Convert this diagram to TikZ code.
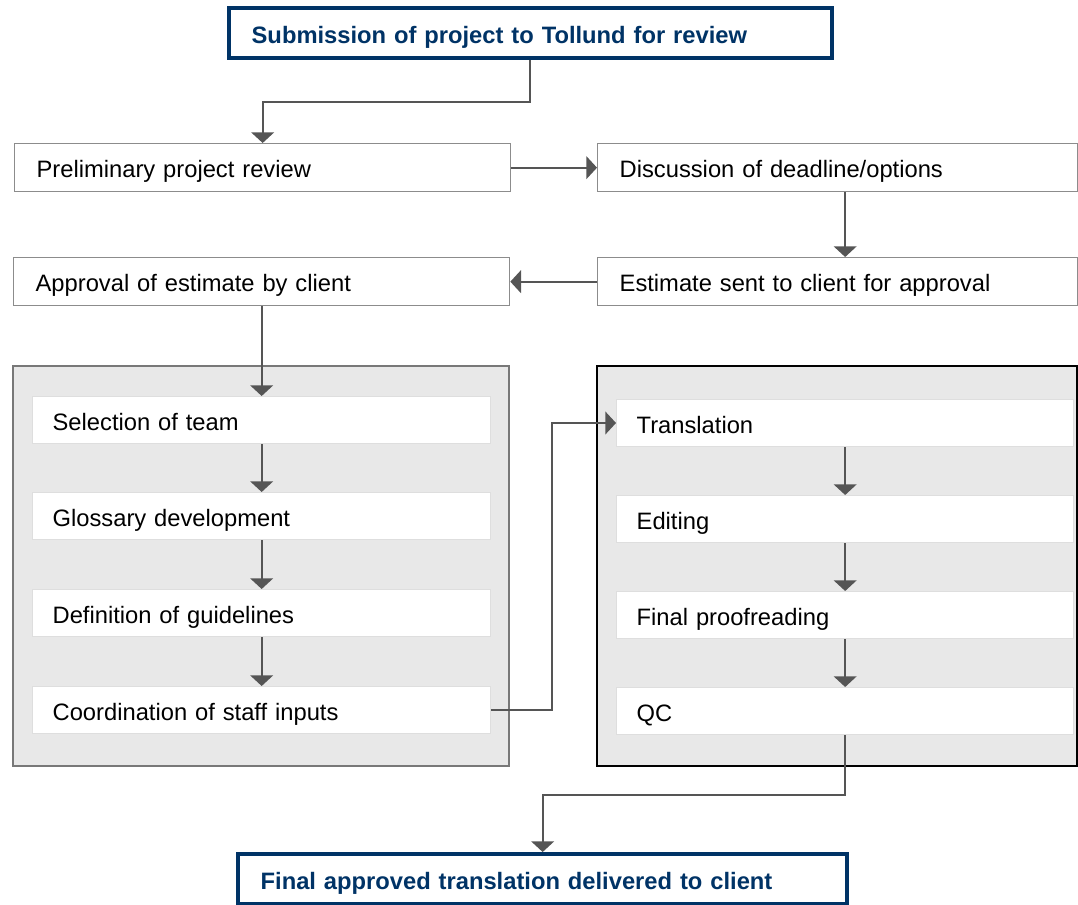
\documentclass[tikz,border=0pt]{standalone}
\usepackage{fontspec}
\usepackage{tikz}
\usetikzlibrary{arrows.meta}
\newfontfamily\stepfont{Liberation Sans}
\definecolor{navy}{RGB}{0,51,102}
\definecolor{arrowgray}{RGB}{85,85,85}
\definecolor{boxgray}{RGB}{140,140,140}
\definecolor{panelfill}{RGB}{232,232,232}
\definecolor{panelline}{RGB}{120,120,120}
\definecolor{innerline}{RGB}{222,222,222}
\tikzset{
  stepbox/.style={draw=boxgray, line width=1pt, fill=white, anchor=north west,
    minimum height=36pt, inner xsep=16.5pt, text width=#1, align=left,
    text height=17pt, text depth=2pt,
    font=\stepfont\fontsize{17.8}{20}\selectfont},
  innerbox/.style={stepbox=#1, draw=innerline, minimum height=35pt, inner xsep=15pt},
  endbox/.style={stepbox=#1, draw=navy, line width=3pt, minimum height=37.5pt,
    inner xsep=17pt, text=navy, font=\stepfont\bfseries\fontsize{17.8}{20}\selectfont},
  flow/.style={draw=arrowgray, line width=1.5pt, -{Triangle[length=8pt,width=17pt]}},
  link/.style={draw=arrowgray, line width=1.5pt}
}
\begin{document}
\begin{tikzpicture}[x=0.75pt, y=-0.75pt]
\useasboundingbox (0,0) rectangle (1078,904);
% panels
\draw[panelline, fill=panelfill, line width=1pt] (13,366) rectangle (509,766);
\draw[black, fill=panelfill, line width=1.2pt] (597,366) rectangle (1077,766);
% top and bottom
\node[endbox=418pt] (sub) at (227,6) {Submission of project to Tollund for review};
\node[endbox=423pt] (final) at (236,852) {Final approved translation delivered to client};
% outer steps
\node[stepbox=339pt] (prel) at (14,143) {Preliminary project review};
\node[stepbox=327pt] (disc) at (597,143) {Discussion of deadline/options};
\node[stepbox=327pt] (est) at (597,257) {Estimate sent to client for approval};
\node[stepbox=339pt] (appr) at (13,257) {Approval of estimate by client};
% left panel
\node[innerbox=313.5pt] (sel) at (32,396) {Selection of team};
\node[innerbox=313.5pt] (glos) at (32,492) {Glossary development};
\node[innerbox=313.5pt] (defn) at (32,589) {Definition of guidelines};
\node[innerbox=313.5pt] (coord) at (32,686) {Coordination of staff inputs};
% right panel
\node[innerbox=312.75pt] (trans) at (616,399) {Translation};
\node[innerbox=312.75pt] (edit) at (616,495) {Editing};
\node[innerbox=312.75pt] (proof) at (616,591) {Final proofreading};
\node[innerbox=312.75pt] (qc) at (616,687) {QC};
% connectors
\draw[flow] (sub.south) -- ++(0,42) -| (prel.north);
\draw[flow] (prel.east) -- (disc.west);
\draw[flow] (disc.south -| trans.north) -- (est.north -| trans.north);
\draw[flow] (est.west) -- (appr.east);
\draw[flow] (appr.south) -- (sel.north);
\draw[flow] (sel) -- (glos);
\draw[flow] (glos) -- (defn);
\draw[flow] (defn) -- (coord);
\draw[flow] (coord.east) -- ++(61,0) |- (trans.west);
\draw[flow] (trans) -- (edit);
\draw[flow] (edit) -- (proof);
\draw[flow] (proof) -- (qc);
\draw[flow] (qc.south) -- ++(0,60) -| (final.north);
\end{tikzpicture}
\end{document}
